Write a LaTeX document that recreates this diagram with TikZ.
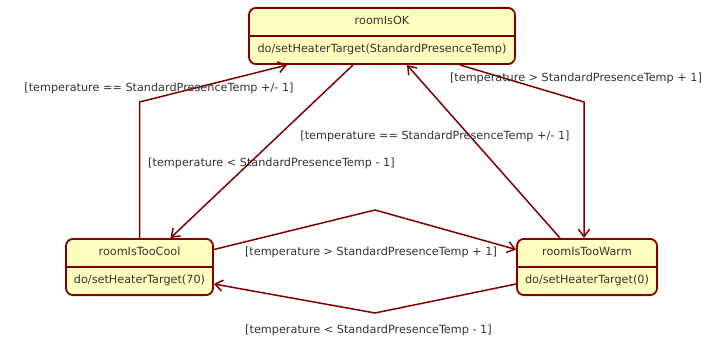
\documentclass[tikz,border=0pt]{standalone}
\usepackage{fontspec}
\usepackage{tikz}
\newfontfamily\umlfont{DejaVu Sans}
\definecolor{statered}{HTML}{800000}
\definecolor{stateyellow}{HTML}{FFFFC0}
\definecolor{guardgray}{HTML}{333333}
\usetikzlibrary{shapes.multipart, arrows.meta, positioning, calc}

\tikzset{
    state/.style={rectangle split, rectangle split parts=2, draw=statered, fill=stateyellow, line width=1.8pt, rounded corners=7pt, inner xsep=2pt, inner ysep=6.4pt, text=guardgray, font=\umlfont\fontsize{11.25}{13.5}\selectfont},
    guard/.style={inner sep=0pt, text=guardgray, font=\umlfont\fontsize{11.25}{13.5}\selectfont},
    trans/.style={draw=statered, line width=1.5pt, -{Straight Barb[length=7.5pt,width=11pt]}}
}

\begin{document}
\begin{tikzpicture}[x=1pt, y=-1pt]
    \useasboundingbox[fill=white] (0,0) rectangle (710,342);

    \node[state, minimum width=266pt, anchor=north] (ok) at (382,7) {\strut roomIsOK\nodepart{two}\strut do/setHeaterTarget(StandardPresenceTemp)};
    \node[state, minimum width=147pt, anchor=north] (cool) at (139.5,238) {\strut roomIsTooCool\nodepart{two}\strut do/setHeaterTarget(70)};
    \node[state, minimum width=140pt, anchor=north] (warm) at (587,238) {\strut roomIsTooWarm\nodepart{two}\strut do/setHeaterTarget(0)};

    \coordinate (b1) at (139.5,102);
    \coordinate (b4) at (584,102);
    \coordinate (t5) at (375,210);
    \coordinate (t6) at (375,313);

    \draw[trans] (cool.north) -- (b1) -- ($(ok.south)+(-95,0)$);
    \draw[trans] ($(ok.south)+(-29,0)$) -- ($(cool.north)+(31,0)$);
    \draw[trans] ($(warm.north)+(-27,0)$) -- ($(ok.south)+(25,0)$);
    \draw[trans] ($(ok.south)+(78,0)$) -- (b4) -- (b4 |- warm.north);
    \draw[trans] ($(cool.east)+(0,-17.5)$) -- (t5) -- ($(warm.west)+(0,-17.5)$);
    \draw[trans] ($(warm.west)+(0,17)$) -- (t6) -- ($(cool.east)+(0,17)$);

    \node[guard] (g1) at (159,88) {[temperature == StandardPresenceTemp +/- 1]};
    \node[guard] (g2) at (271.5,163) {[temperature < StandardPresenceTemp - 1]};
    \node[guard] (g3) at (435,136) {[temperature == StandardPresenceTemp +/- 1]};
    \node[guard] (g4) at (576,78) {[temperature > StandardPresenceTemp + 1]};
    \node[guard] (g5) at (371,252) {[temperature > StandardPresenceTemp + 1]};
    \node[guard] (g6) at (368.5,330) {[temperature < StandardPresenceTemp - 1]};
\end{tikzpicture}
\end{document}
